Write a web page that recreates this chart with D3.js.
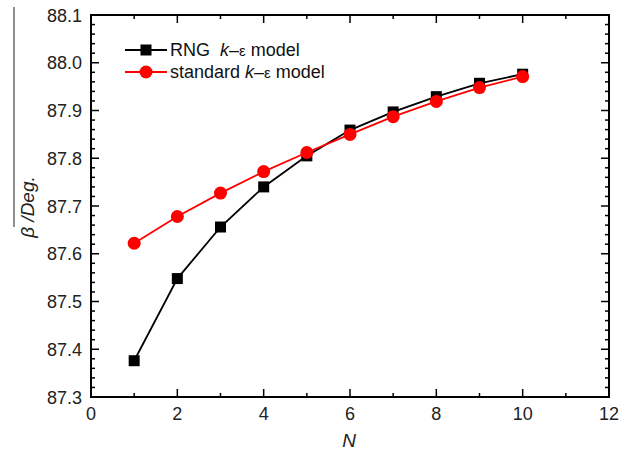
<!DOCTYPE html>
<html>
<head>
<meta charset="utf-8">
<script src="https://cdn.jsdelivr.net/npm/d3@7"></script>
<style>
  body { margin: 0; background: #fff; }
  svg { display: block; font-family: "Liberation Sans", Arial, sans-serif; }
</style>
</head>
<body>
<script>
// data
var nValues = [1, 2, 3, 4, 5, 6, 7, 8, 9, 10];
var rngBeta = [87.376, 87.548, 87.656, 87.740, 87.805, 87.859, 87.897, 87.929, 87.957, 87.976];
var stdBeta = [87.622, 87.678, 87.727, 87.772, 87.812, 87.850, 87.887, 87.919, 87.948, 87.971];
var xTicks = [0, 2, 4, 6, 8, 10, 12];
var yTicks = [87.3, 87.4, 87.5, 87.6, 87.7, 87.8, 87.9, 88.0, 88.1];

function main() {
  var width = 631, height = 451;
  var left = 91, right = 609, top = 15, bottom = 397;

  var svg = d3.select("body").append("svg")
    .attr("width", width)
    .attr("height", height);

  var x = d3.scaleLinear().domain([0, 12]).range([left, right]);
  var y = d3.scaleLinear().domain([87.3, 88.1]).range([bottom, top]);

  // stray border line on the left of the scan
  svg.append("line")
    .attr("x1", 14).attr("x2", 14).attr("y1", 7).attr("y2", 227)
    .attr("stroke", "#444").attr("stroke-width", 1.2);

  // minor ticks
  var xMinor = d3.range(1, 12, 2);
  var yMinor = d3.range(0, 41).map(function (i) { return 87.3 + i * 0.02; })
    .filter(function (v, i) { return i % 5 !== 0; });

  var ticks = svg.append("g").attr("stroke", "#000").attr("stroke-width", 1.5);
  function xt(vals, len) {
    vals.forEach(function (v) {
      ticks.append("line").attr("x1", x(v)).attr("x2", x(v)).attr("y1", bottom).attr("y2", bottom - len);
      ticks.append("line").attr("x1", x(v)).attr("x2", x(v)).attr("y1", top).attr("y2", top + len);
    });
  }
  function yt(vals, len) {
    vals.forEach(function (v) {
      ticks.append("line").attr("y1", y(v)).attr("y2", y(v)).attr("x1", left).attr("x2", left + len);
      ticks.append("line").attr("y1", y(v)).attr("y2", y(v)).attr("x1", right).attr("x2", right - len);
    });
  }
  xt(xTicks, 8); xt(xMinor, 4);
  yt(yTicks, 8); yt(yMinor, 4);

  svg.append("rect")
    .attr("x", left).attr("y", top)
    .attr("width", right - left).attr("height", bottom - top)
    .attr("fill", "none").attr("stroke", "#000").attr("stroke-width", 2);

  // tick labels
  svg.append("g").selectAll("text")
    .data(xTicks).enter().append("text")
    .attr("x", function (d) { return x(d); })
    .attr("y", 420)
    .attr("text-anchor", "middle")
    .attr("font-size", 18)
    .attr("fill", "#222")
    .text(function (d) { return d; });

  svg.append("g").selectAll("text")
    .data(yTicks).enter().append("text")
    .attr("x", 82)
    .attr("y", function (d) { return y(d) + 6.5; })
    .attr("text-anchor", "end")
    .attr("font-size", 18)
    .attr("fill", "#222")
    .text(function (d) { return d.toFixed(1); });

  // axis titles
  svg.append("text")
    .attr("x", 349).attr("y", 447)
    .attr("text-anchor", "middle")
    .attr("font-size", 19)
    .attr("font-style", "italic")
    .attr("fill", "#222")
    .text("N");

  svg.append("text")
    .attr("transform", "translate(34,207) rotate(-90)")
    .attr("text-anchor", "middle")
    .attr("font-size", 19)
    .attr("font-style", "italic")
    .attr("fill", "#222")
    .text("β /Deg.");

  // series
  var line = d3.line()
    .x(function (d) { return x(d[0]); })
    .y(function (d) { return y(d[1]); });

  var rng = d3.zip(nValues, rngBeta);
  var std = d3.zip(nValues, stdBeta);

  svg.append("path").datum(rng)
    .attr("d", line).attr("fill", "none")
    .attr("stroke", "#000").attr("stroke-width", 1.8);
  svg.selectAll("rect.rng").data(rng).enter().append("rect")
    .attr("class", "rng")
    .attr("x", function (d) { return x(d[0]) - 5.5; })
    .attr("y", function (d) { return y(d[1]) - 5.5; })
    .attr("width", 11).attr("height", 11)
    .attr("fill", "#000");

  svg.append("path").datum(std)
    .attr("d", line).attr("fill", "none")
    .attr("stroke", "#ff0000").attr("stroke-width", 1.8);
  svg.selectAll("circle.std").data(std).enter().append("circle")
    .attr("class", "std")
    .attr("cx", function (d) { return x(d[0]); })
    .attr("cy", function (d) { return y(d[1]); })
    .attr("r", 6.5)
    .attr("fill", "#ff0000");

  // legend
  var leg = svg.append("g");
  leg.append("line").attr("x1", 125).attr("x2", 167).attr("y1", 50).attr("y2", 50)
    .attr("stroke", "#000").attr("stroke-width", 1.8);
  leg.append("rect").attr("x", 146 - 5.5).attr("y", 50 - 5.5).attr("width", 11).attr("height", 11).attr("fill", "#000");
  leg.append("line").attr("x1", 125).attr("x2", 167).attr("y1", 72).attr("y2", 72)
    .attr("stroke", "#ff0000").attr("stroke-width", 1.8);
  leg.append("circle").attr("cx", 146).attr("cy", 72).attr("r", 6.5).attr("fill", "#ff0000");

  var t1 = leg.append("text").attr("x", 170).attr("y", 56).attr("font-size", 18).attr("fill", "#111");
  t1.append("tspan").text("RNG\u00a0\u00a0");
  t1.append("tspan").attr("font-style", "italic").text("k");
  t1.append("tspan").text("–");
  t1.append("tspan").attr("font-size", 15).text("ε");
  t1.append("tspan").text(" model");

  var t2 = leg.append("text").attr("x", 170).attr("y", 78).attr("font-size", 18).attr("fill", "#111");
  t2.append("tspan").text("standard ");
  t2.append("tspan").attr("font-style", "italic").text("k");
  t2.append("tspan").text("–");
  t2.append("tspan").attr("font-size", 15).text("ε");
  t2.append("tspan").text(" model");
}
main();
</script>
</body>
</html>
